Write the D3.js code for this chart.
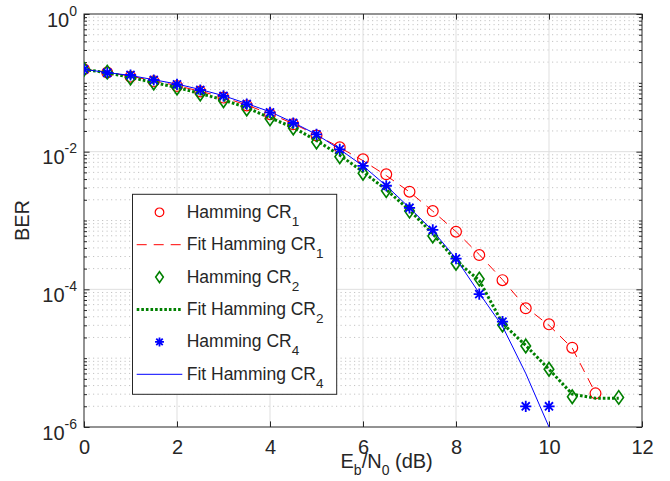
<!DOCTYPE html>
<html>
<head>
<meta charset="utf-8">
<script src="https://cdn.jsdelivr.net/npm/d3@7"></script>
<style>
  body { margin: 0; background: #fff; }
  text { font-family: "Liberation Sans", Arial, sans-serif; fill: #262626; }
</style>
</head>
<body>
<svg width="670" height="481"></svg>
<script>
// data: Eb/N0 (dB) and BER (null = no point)
var ebn0 = [0, 0.5, 1, 1.5, 2, 2.5, 3, 3.5, 4, 4.5, 5, 5.5, 6, 6.5, 7, 7.5, 8, 8.5, 9, 9.5, 10, 10.5, 11, 11.5];

var berCR1 = [0.157, 0.141, 0.123, 0.105, 0.090, 0.075, 0.061, 0.047, 0.035, 0.025, 0.0172, 0.01156,
              0.00774, 0.00469, 0.00262, 0.00137, 0.000687, 0.000315, 0.000136, 5.3e-5, 3.1e-5, 1.42e-5, 3.08e-6, null];
var fitCR1 = [0.158, 0.142, 0.125, 0.107, 0.091, 0.0755, 0.0615, 0.0475, 0.0355, 0.0255, 0.0175, 0.0115,
              0.0074, 0.0045, 0.0026, 0.00137, 0.00069, 0.00032, 0.000138, 5.5e-5, 3.0e-5, 1.4e-5, 3.1e-6, null];

var berCR2 = [0.157, 0.143, 0.1175, 0.0994, 0.0841, 0.0689, 0.055, 0.0417, 0.030, 0.0221, 0.0138, 0.00845,
              0.00485, 0.00271, 0.00137, 0.000596, 0.000239, 0.000141, 3.03e-5, 1.5e-5, 6.9e-6, 2.75e-6, null, 2.69e-6];
var fitCR2 = [0.157, 0.140, 0.120, 0.101, 0.0855, 0.070, 0.0565, 0.0435, 0.031, 0.0225, 0.0145, 0.0089,
              0.0051, 0.0028, 0.00142, 0.00064, 0.00026, 0.000135, 3.2e-5, 1.53e-5, 6.9e-6, 3.0e-6, 2.62e-6, 2.62e-6];

var berCR4 = [0.157, 0.140, 0.130, 0.110, 0.095, 0.0787, 0.0645, 0.0492, 0.0373, 0.0261, 0.0178, 0.0108,
              0.0062, 0.0032, 0.00153, 0.00073, 0.00028, 8.5e-5, 3.4e-5, 2.0e-6, 2.0e-6, null, null, null];
var fitCR4 = [0.157, 0.141, 0.128, 0.111, 0.096, 0.080, 0.065, 0.050, 0.038, 0.0265, 0.0178, 0.0108,
              0.0062, 0.0032, 0.00153, 0.00071, 0.00028, 8.8e-5, 2.9e-5, 6.0e-6, 1.0e-6, null, null, null];

var xTicks = [0, 2, 4, 6, 8, 10, 12];
var yMajor = [1, 1e-2, 1e-4, 1e-6];
var yExp = ["0", "-2", "-4", "-6"];
var legendLabels = [["Hamming CR", "1"], ["Fit Hamming CR", "1"], ["Hamming CR", "2"],
                    ["Fit Hamming CR", "2"], ["Hamming CR", "4"], ["Fit Hamming CR", "4"]];

// 描画領域 (window.top と衝突しない名前にする)
var pLeft = 84, pRight = 642, pTop = 14, pBottom = 427;
var svg = d3.select("svg");

var x = d3.scaleLinear().domain([0, 12]).range([pLeft, pRight]);
var y = d3.scaleLog().domain([1e-6, 1]).range([pBottom, pTop]);

// minor ticks of the log axis (2..9 of each decade, plus odd decades)
var yMinor = [];
for (var e = -6; e < 0; e++) {
  for (var m = 2; m <= 9; m++) yMinor.push(m * Math.pow(10, e));
}
yMinor = yMinor.concat([0.1, 1e-3, 1e-5]);

// grid
var grid = svg.append("g");
grid.selectAll(".gminor").data(yMinor).enter().append("line")
  .attr("x1", pLeft).attr("x2", pRight)
  .attr("y1", function(d){ return y(d); }).attr("y2", function(d){ return y(d); })
  .attr("stroke", "#c4c4c4").attr("stroke-width", 1).attr("stroke-dasharray", "1.2,3.3");
grid.selectAll(".gx").data(xTicks.slice(1, -1)).enter().append("line")
  .attr("x1", function(d){ return x(d); }).attr("x2", function(d){ return x(d); })
  .attr("y1", pTop).attr("y2", pBottom)
  .attr("stroke", "#dfdfdf").attr("stroke-width", 1);
grid.selectAll(".gy").data(yMajor.slice(1, -1)).enter().append("line")
  .attr("x1", pLeft).attr("x2", pRight)
  .attr("y1", function(d){ return y(d); }).attr("y2", function(d){ return y(d); })
  .attr("stroke", "#dfdfdf").attr("stroke-width", 1);

// axes (ticks point inward, box on)
function styleAxis(g) {
  g.select(".domain").remove();
  g.selectAll(".tick line").attr("stroke", "#262626");
}
svg.append("g").attr("transform", "translate(0," + pBottom + ")")
  .call(d3.axisBottom(x).tickValues(xTicks).tickSize(-5.6).tickPadding(13).tickFormat(d3.format("d")))
  .call(styleAxis)
  .selectAll("text").attr("font-size", 20).attr("font-family", "Liberation Sans, Arial, sans-serif").attr("fill", "#262626");
svg.append("g").attr("transform", "translate(0," + pTop + ")")
  .call(d3.axisTop(x).tickValues(xTicks).tickSize(-5.6).tickFormat(""))
  .call(styleAxis);
svg.append("g").attr("transform", "translate(" + pLeft + ",0)")
  .call(d3.axisLeft(y).tickValues(yMajor).tickSize(-5.6).tickFormat(""))
  .call(styleAxis);
svg.append("g").attr("transform", "translate(" + pLeft + ",0)")
  .call(d3.axisLeft(y).tickValues(yMinor).tickSize(-3).tickFormat(""))
  .call(styleAxis);
svg.append("g").attr("transform", "translate(" + pRight + ",0)")
  .call(d3.axisRight(y).tickValues(yMajor).tickSize(-5.6).tickFormat(""))
  .call(styleAxis);
svg.append("g").attr("transform", "translate(" + pRight + ",0)")
  .call(d3.axisRight(y).tickValues(yMinor).tickSize(-3).tickFormat(""))
  .call(styleAxis);

svg.append("rect").attr("x", pLeft).attr("y", pTop)
  .attr("width", pRight - pLeft).attr("height", pBottom - pTop)
  .attr("fill", "none").attr("stroke", "#262626").attr("stroke-width", 1);

// y tick labels 10^n
var yl = svg.append("g").selectAll("text").data(yMajor).enter().append("text")
  .attr("x", 77).attr("y", function(d){ return y(d) + 12.5; })
  .attr("text-anchor", "end").attr("font-size", 20);
yl.append("tspan").text("10");
yl.append("tspan").attr("dy", -11).attr("font-size", 14).text(function(d, i){ return yExp[i]; });

// axis labels
var xl = svg.append("text").attr("x", 340.5).attr("y", 468).attr("font-size", 20);
xl.append("tspan").text("E");
xl.append("tspan").attr("dy", 7).attr("font-size", 14).text("b");
xl.append("tspan").attr("dy", -7).text("/N");
xl.append("tspan").attr("dy", 7).attr("font-size", 14).text("0");
xl.append("tspan").attr("dy", -7).text(" (dB)");

svg.append("text").attr("transform", "translate(28.5," + ((pTop + pBottom) / 2) + ") rotate(-90)")
  .attr("text-anchor", "middle").attr("font-size", 20).text("BER");

// data
svg.append("clipPath").attr("id", "clip").append("rect")
  .attr("x", pLeft).attr("y", pTop).attr("width", pRight - pLeft).attr("height", pBottom - pTop);
var plot = svg.append("g").attr("clip-path", "url(#clip)");

function pts(vals) {
  return ebn0.map(function(d, i){ return { x: d, v: vals[i] }; })
             .filter(function(d){ return d.v != null; });
}
var line = d3.line()
  .defined(function(d){ return d.v != null; })
  .x(function(d){ return x(d.x); })
  .y(function(d){ return y(d.v); });

var circlePath = function(r){ return "M" + r + ",0A" + r + "," + r + " 0 1,1 " + (-r) + ",0A" + r + "," + r + " 0 1,1 " + r + ",0Z"; };
var diamondPath = function(s){ return "M0," + (-s * 1.28) + "L" + (s * 0.9) + ",0L0," + (s * 1.28) + "L" + (-s * 0.9) + ",0Z"; };
var starPath = function(s){ var a = s * 0.72;
  return "M" + (-s) + ",0H" + s + "M0," + (-s) + "V" + s +
         "M" + (-a) + "," + (-a) + "L" + a + "," + a + "M" + (-a) + "," + a + "L" + a + "," + (-a); };

var series = [
  { vals: berCR1, fit: fitCR1, color: "#ff0000", marker: circlePath, msize: 5.4, mw: 1.2, dash: "10,7", lw: 1 },
  { vals: berCR2, fit: fitCR2, color: "#008000", marker: diamondPath, msize: 5.3, mw: 1.6, dash: "2.6,2", lw: 3 },
  { vals: berCR4, fit: fitCR4, color: "#0000ff", marker: starPath, msize: 5.6, mw: 1.8, dash: null, lw: 1 }
];

series.forEach(function(s){
  plot.selectAll(null).data(pts(s.vals)).enter().append("path")
    .attr("transform", function(d){ return "translate(" + x(d.x) + "," + y(d.v) + ")"; })
    .attr("d", s.marker(s.msize))
    .attr("fill", "none").attr("stroke", s.color).attr("stroke-width", s.mw);
  plot.append("path").datum(ebn0.map(function(d, i){ return { x: d, v: s.fit[i] }; }))
    .attr("d", line)
    .attr("fill", "none").attr("stroke", s.color).attr("stroke-width", s.lw)
    .attr("stroke-dasharray", s.dash);
});

// legend
var lg = svg.append("g");
lg.append("rect").attr("x", 132.5).attr("y", 194.3).attr("width", 204.2).attr("height", 200)
  .attr("fill", "#fff").attr("stroke", "#262626").attr("stroke-width", 1);
var rowY = d3.scaleLinear().domain([0, 5]).range([212.3, 374.3]);
legendLabels.forEach(function(lab, i){
  var s = series[Math.floor(i / 2)];
  var cy = rowY(i);
  if (i % 2 == 0) {
    lg.append("path").attr("transform", "translate(159.5," + cy + ")")
      .attr("d", s.marker(s.msize * 0.8))
      .attr("fill", "none").attr("stroke", s.color).attr("stroke-width", s.mw);
  } else {
    lg.append("line").attr("x1", 136.7).attr("x2", 182.3).attr("y1", cy).attr("y2", cy)
      .attr("stroke", s.color).attr("stroke-width", s.lw).attr("stroke-dasharray", s.dash);
  }
  var t = lg.append("text").attr("x", 186.7).attr("y", cy + 5.5).attr("font-size", 17.5);
  t.append("tspan").text(lab[0]);
  t.append("tspan").attr("dy", 8).attr("font-size", 13.5).text(lab[1]);
});
</script>
</body>
</html>
